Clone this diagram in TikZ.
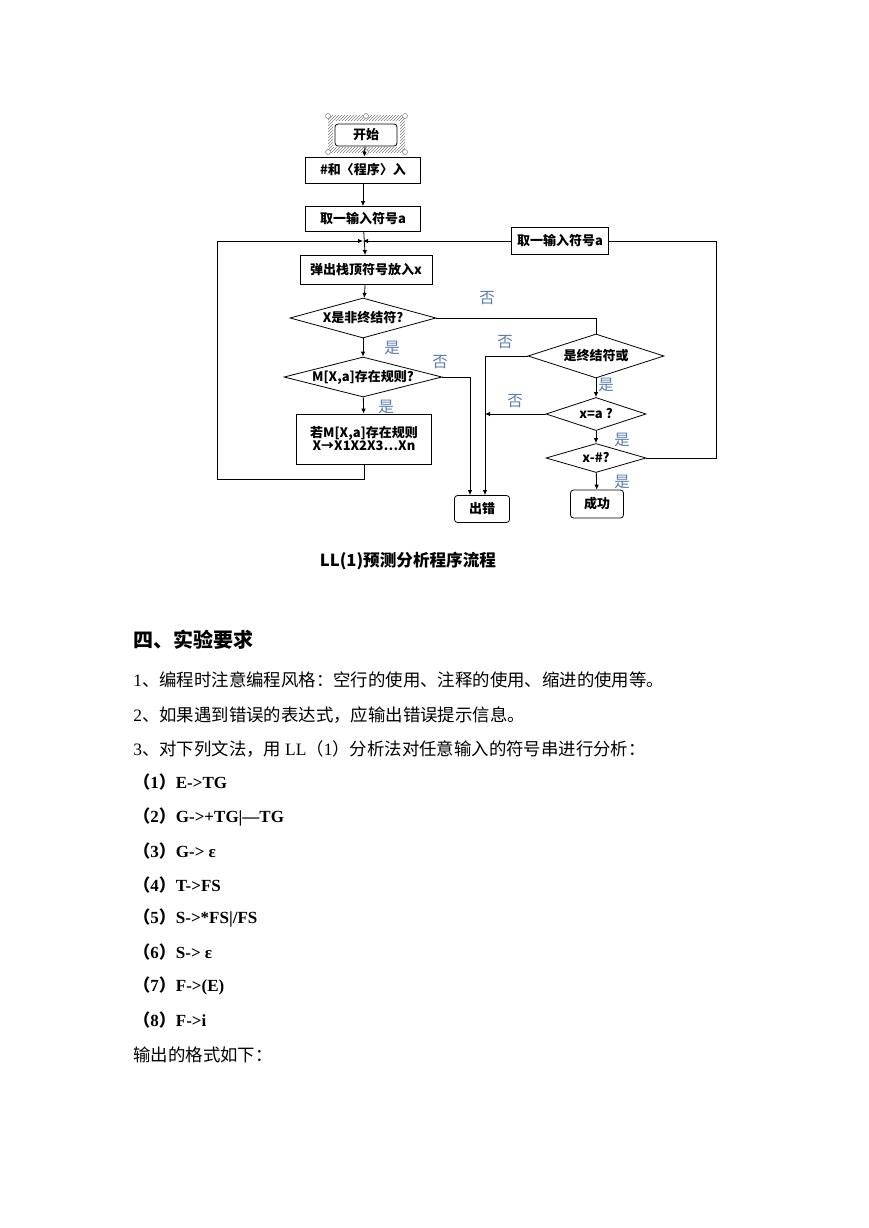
\documentclass[tikz,border=0pt]{standalone}
\usepackage{fontspec}
\setmainfont{Liberation Serif}
\newfontfamily\cjk{Noto Sans CJK SC}
\usepackage{tikz}
\usetikzlibrary{shapes.geometric,arrows.meta,positioning,patterns}
\definecolor{labblue}{RGB}{92,124,172}
\newcommand{\fsz}[1]{\fontsize{#1}{#1}\selectfont}

\begin{document}
\begin{tikzpicture}[
    x=1pt, y=-1pt, line width=0.8pt,
    >={Latex[length=5pt,width=4.5pt]},
    box/.style={rectangle, draw, fill=white, inner sep=0pt, align=center, font=\cjk\bfseries\fsz{13}},
    term/.style={box, rounded corners=3pt},
    cond/.style={diamond, draw, fill=white, inner sep=0pt, font=\cjk\bfseries\fsz{13}},
    yn/.style={inner sep=0pt, text=labblue, font=\cjk\fsz{15.5}},
    body/.style={anchor=west, inner sep=0pt, font=\cjk\fsz{17.4}},
    gram/.style={anchor=west, inner sep=0pt, font=\bfseries\fsz{17}}
]
\useasboundingbox[fill=white] (0,0) rectangle (869,1228);

% start symbol, still selected
\fill[pattern=north east lines, pattern color=gray] (328,116) rectangle (405,152);
\fill[white] (333,121) rectangle (400,147);
\foreach \cx in {328,366,405}
  \foreach \cy in {116,152}
    \draw[line width=0.5pt, fill=white, draw=gray] (\cx,\cy) circle (2.5pt);
\node[term, minimum width=62pt, minimum height=22pt] (start) at (366,135) {开始};

% main column
\node[box, minimum width=115pt, minimum height=26pt] (in) at (363,170) {\#和〈程序〉入};
\node[box, minimum width=115pt, minimum height=25pt] (rd) at (363,219) {取一输入符号a};
\node[box, minimum width=132pt, minimum height=29pt] (pop) at (366,270) {弹出栈顶符号放入x};
\node[cond, minimum width=146pt, minimum height=40pt, shape aspect=3.65] (d1) at (363,318) {X是非终结符?};
\node[cond, minimum width=158pt, minimum height=40pt, shape aspect=3.95] (d2) at (363,377) {M[X,a]存在规则?};
\node[box, minimum width=135pt, minimum height=50pt] (rule) at (364,439) {若M[X,a]存在规则\\X→X1X2X3…Xn};
\node[term, minimum width=55pt, minimum height=27pt] (err) at (482,509) {出错};

% right column
\node[box, minimum width=97pt, minimum height=27pt] (rd2) at (560,241) {取一输入符号a};
\node[cond, minimum width=136pt, minimum height=44pt, shape aspect=3.1] (d3) at (596,356) {是终结符或};
\node[cond, minimum width=100pt, minimum height=33pt, shape aspect=3] (d4) at (596,414) {x=a ?};
\node[cond, minimum width=100pt, minimum height=29pt, shape aspect=3.45] (d5) at (596,458) {x-\#?};
\node[term, minimum width=53pt, minimum height=28pt] (ok) at (597,504) {成功};

\coordinate (j) at (363,241);
\coordinate (lb) at (217,479);
\coordinate (rt) at (716,241);
\coordinate (e1) at ([xshift=-12pt]err.north);
\coordinate (e2) at ([xshift=3pt]err.north);

\draw[->] (start) -- (in);
\draw[->] (in) -- (rd);
\draw[->] (rd) -- (pop);
\draw[->] (pop) -- (d1);
\draw[->] (d1) -- (d2);
\draw[->] (d2) -- (rule);
\draw[->] (rule.south) |- (lb) |- (j);
\draw[->] (rd2.west) -- (j);
\draw (d1.east) -| (d3.north);
\draw[->] (d2.east) -| (e1);
\draw[->] (d3.west) -| (e2);
\draw[->] (d3) -- (d4);
\draw[->] (d4.west) -- (d4.west -| e2);
\draw[->] (d4) -- (d5);
\draw[->] (d5) -- (ok);
\draw (d5.east) -| (rt) -- (rd2.east);

% yes / no
\node[yn] (n1) at (487,298) {否};
\node[yn] (y1) at (392,348) {是};
\node[yn] (n2) at (440,362) {否};
\node[yn] (y2) at (386,407) {是};
\node[yn] (n3) at (505,342) {否};
\node[yn] (y3) at (606,385) {是};
\node[yn] (n4) at (515,401) {否};
\node[yn] (y4) at (622,440) {是};
\node[yn] (y5) at (622,482) {是};

\node[inner sep=0pt, font=\cjk\bfseries\fsz{16.6}] (cap) at (408,561) {LL(1)预测分析程序流程};

% text below
\node[body, font=\cjk\bfseries\fsz{20}] (h4) at (133,640) {四、实验要求};
\node[body] (t1) at (133,680) {\rmfamily 1{\cjk 、编程时注意编程风格：空行的使用、注释的使用、缩进的使用等。}};
\node[body] (t2) at (133,715) {\rmfamily 2{\cjk 、如果遇到错误的表达式，应输出错误提示信息。}};
\node[body] (t3) at (133,749) {\rmfamily 3{\cjk 、对下列文法，用 }LL{\cjk （}1{\cjk ）分析法对任意输入的符号串进行分析：}};
\node[gram] (g1) at (133,782) {{\cjk （}1{\cjk ）}E->TG};
\node[gram] (g2) at (133,817) {{\cjk （}2{\cjk ）}G->+TG|—TG};
\node[gram] (g3) at (133,851) {{\cjk （}3{\cjk ）}G-> ε};
\node[gram] (g4) at (133,885) {{\cjk （}4{\cjk ）}T->FS};
\node[gram] (g5) at (133,918) {{\cjk （}5{\cjk ）}S->*FS|/FS};
\node[gram] (g6) at (133,952) {{\cjk （}6{\cjk ）}S-> ε};
\node[gram] (g7) at (133,986) {{\cjk （}7{\cjk ）}F->(E)};
\node[gram] (g8) at (133,1020) {{\cjk （}8{\cjk ）}F->i};
\node[body] (t4) at (133,1055) {输出的格式如下：};
\end{tikzpicture}
\end{document}
